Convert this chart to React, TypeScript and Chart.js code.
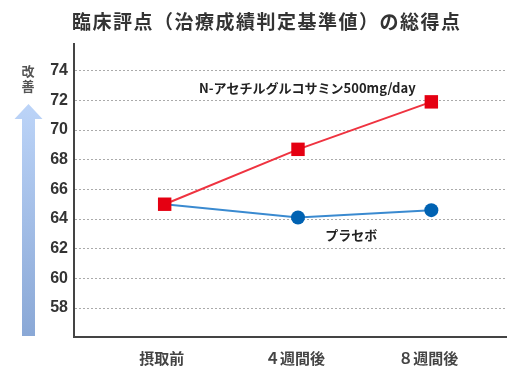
import React, { useEffect, useRef } from 'react';
import { Chart, registerables } from 'chart.js';

Chart.register(...registerables);

const TITLE = '臨床評点（治療成績判定基準値）の総得点';
const CATEGORIES = ['摂取前', '４週間後', '８週間後'];
const NAG_VALUES = [65.0, 68.7, 71.9];
const PLACEBO_VALUES = [65.0, 64.1, 64.6];
const Y_TICKS = [58, 60, 62, 64, 66, 68, 70, 72, 74];
const NAG_LABEL = 'N-アセチルグルコサミン500mg/day';
const PLACEBO_LABEL = 'プラセボ';
const ARROW_LABEL = ['改', '善'];
const NAG_LABEL_POS = { x: 1.07, y: 72.83 };
const PLACEBO_LABEL_POS = { x: 1.4, y: 62.94 };

const JP = "'Noto Sans CJK JP', 'Noto Sans', sans-serif";

const decorPlugin = {
  id: 'decor',
  afterDraw(chart: any) {
    const ctx = chart.ctx as CanvasRenderingContext2D;
    const xs = chart.scales.x;
    const ys = chart.scales.y;
    const area = chart.chartArea;
    ctx.save();
    // title
    ctx.fillStyle = '#333';
    ctx.font = `bold 19px ${JP}`;
    ctx.textAlign = 'left';
    ctx.textBaseline = 'middle';
    (ctx as any).letterSpacing = '1.5px';
    ctx.fillText(TITLE, 72, 22);
    (ctx as any).letterSpacing = '0px';

    // arrow
    const cx = 28.5;
    const tip = 104;
    const headBase = 119;
    const bottom = area.bottom - 1;
    const grad = ctx.createLinearGradient(0, tip, 0, bottom);
    grad.addColorStop(0, '#bcd4f8');
    grad.addColorStop(1, '#8aa8d6');
    ctx.fillStyle = grad;
    ctx.beginPath();
    ctx.moveTo(cx, tip);
    ctx.lineTo(cx + 14, headBase);
    ctx.lineTo(cx + 6.5, headBase);
    ctx.lineTo(cx + 6.5, bottom);
    ctx.lineTo(cx - 6.5, bottom);
    ctx.lineTo(cx - 6.5, headBase);
    ctx.lineTo(cx - 14, headBase);
    ctx.closePath();
    ctx.fill();

    ctx.fillStyle = '#555';
    ctx.font = `bold 13px ${JP}`;
    ctx.textAlign = 'center';
    ARROW_LABEL.forEach((ch, i) => ctx.fillText(ch, 28, 71 + i * 15));

    // series labels
    ctx.fillStyle = '#222';
    ctx.font = `bold 13px ${JP}`;
    ctx.fillText(NAG_LABEL, xs.getPixelForValue(NAG_LABEL_POS.x), ys.getPixelForValue(NAG_LABEL_POS.y));
    ctx.fillText(PLACEBO_LABEL, xs.getPixelForValue(PLACEBO_LABEL_POS.x), ys.getPixelForValue(PLACEBO_LABEL_POS.y));
    ctx.restore();
  },
};

export default function App() {
  const ref = useRef<HTMLCanvasElement | null>(null);
  useEffect(() => {
    if (!ref.current) return;
    const chart = new Chart(ref.current, {
      type: 'line',
      data: {
        datasets: [
          {
            label: NAG_LABEL,
            data: NAG_VALUES.map((v, i) => ({ x: i, y: v })),
            borderColor: '#ef3340',
            backgroundColor: '#e50012',
            borderWidth: 2,
            pointStyle: 'rect',
            pointRadius: 9.5,
            pointBorderWidth: 0,
            pointBackgroundColor: '#e50012',
          },
          {
            label: PLACEBO_LABEL,
            data: PLACEBO_VALUES.map((v, i) => ({ x: i, y: v })),
            borderColor: '#3a8ad0',
            backgroundColor: '#0062b2',
            borderWidth: 2,
            pointStyle: 'circle',
            pointRadius: PLACEBO_VALUES.map((_, i) => (i === 0 ? 0 : 7)),
            pointBorderWidth: 0,
            pointBackgroundColor: '#0062b2',
          },
        ],
      },
      options: {
        animation: false,
        responsive: false,
        events: [],
        layout: { padding: { top: 44, right: 13, left: 0, bottom: 0 } },
        plugins: { legend: { display: false }, title: { display: false }, tooltip: { enabled: false } },
        scales: {
          x: {
            type: 'linear',
            min: -0.68,
            max: 2.56,
            afterBuildTicks: (s: any) => {
              s.ticks = CATEGORIES.map((_, i) => ({ value: i }));
            },
            afterFit: (s: any) => {
              s.height = 41;
            },
            grid: { display: false, drawTicks: false },
            border: { display: true, color: '#444', width: 2 },
            ticks: {
              padding: 12,
              labelOffset: -3,
              color: '#444',
              font: { family: JP, size: 15, weight: 'bold' },
              callback: (v: any) => CATEGORIES[Math.round(v)] ?? '',
            },
          },
          y: {
            type: 'linear',
            min: 56.05,
            max: 75.8,
            afterBuildTicks: (s: any) => {
              s.ticks = Y_TICKS.map((v) => ({ value: v }));
            },
            afterFit: (s: any) => {
              s.width = 74;
            },
            grid: { color: '#aaaaaa', lineWidth: 1, drawTicks: false },
            border: { display: true, color: '#444', width: 2, dash: [2, 2] } as any,
            ticks: {
              padding: 6,
              color: '#333',
              font: { family: "'Liberation Sans', Arial, sans-serif", size: 16, weight: 'bold' },
              callback: (v: any) => String(v),
            },
          },
        },
      },
      plugins: [decorPlugin],
    } as any);
    return () => chart.destroy();
  }, []);
  return (
    <div style={{ position: 'fixed', left: 0, top: 0, width: 519, height: 378, background: '#fff' }}>
      <canvas ref={ref} width={519} height={378} />
    </div>
  );
}
